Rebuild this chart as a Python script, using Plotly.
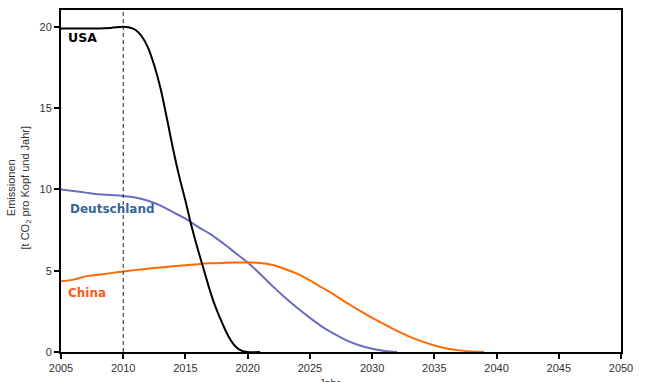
import plotly.graph_objects as go

years_usa = [2005, 2006, 2007, 2008, 2009, 2010, 2010.5, 2011, 2011.5, 2012, 2012.5, 2013, 2013.5,
             2014, 2014.5, 2015, 2015.5, 2016, 2016.5, 2017, 2017.5, 2018, 2018.5, 2019, 2019.5,
             2020, 2021]
usa = [19.9, 19.9, 19.9, 19.9, 19.93, 20.0, 19.95, 19.8, 19.4, 18.7, 17.6, 16.2, 14.4,
       12.5, 10.8, 9.3, 7.7, 6.3, 5.0, 3.7, 2.6, 1.7, 0.9, 0.35, 0.08,
       0.0, 0.0]

years_de = list(range(2005, 2033))
deutschland = [10.0, 9.9, 9.8, 9.7, 9.65, 9.6, 9.5, 9.3, 9.0, 8.6, 8.2, 7.7, 7.25, 6.7, 6.1,
               5.5, 4.8, 4.05, 3.35, 2.7, 2.1, 1.55, 1.1, 0.7, 0.4, 0.2, 0.06, 0.0]

years_cn = list(range(2005, 2040))
china = [4.35, 4.45, 4.65, 4.75, 4.85, 4.95, 5.05, 5.12, 5.2, 5.27, 5.33, 5.4, 5.45, 5.48, 5.5,
         5.5, 5.48, 5.35, 5.1, 4.8, 4.4, 3.95, 3.5, 3.0, 2.55, 2.1, 1.7, 1.3, 0.95, 0.65,
         0.4, 0.22, 0.1, 0.03, 0.0]

x_ticks = [2005, 2010, 2015, 2020, 2025, 2030, 2035, 2040, 2045, 2050]
y_ticks = [0, 5, 10, 15, 20]
marker_year = 2010

fig = go.Figure()
fig.add_trace(go.Scatter(x=years_de, y=deutschland, mode="lines",
                         line=dict(color="#6b6bc4", width=2, shape="spline"), name="Deutschland"))
fig.add_trace(go.Scatter(x=years_cn, y=china, mode="lines",
                         line=dict(color="#ff6a00", width=2, shape="spline"), name="China"))
fig.add_trace(go.Scatter(x=years_usa, y=usa, mode="lines",
                         line=dict(color="black", width=2, shape="spline"), name="USA"))

fig.add_shape(type="line", x0=marker_year, x1=marker_year, y0=0, y1=1, xref="x", yref="paper",
              line=dict(color="#222222", width=1, dash="4px,3px"))

fig.add_annotation(x=2005.4, y=19.35, text="<b>USA</b>", showarrow=False, xanchor="left",
                   font=dict(family="DejaVu Sans", size=12.5, color="black"))
fig.add_annotation(x=2005.55, y=8.79, text="<b>Deutschland</b>", showarrow=False, xanchor="left",
                   font=dict(family="DejaVu Sans", size=12, color="#336699"))
fig.add_annotation(x=2005.4, y=3.64, text="<b>China</b>", showarrow=False, xanchor="left",
                   font=dict(family="DejaVu Sans", size=12, color="#ff5a14"))

fig.add_annotation(x=-0.075, y=0.481, xref="paper", yref="paper", textangle=-90,
                   xanchor="center", yanchor="middle",
                   text="Emissionen<br>[t CO<sub>2</sub> pro Kopf und Jahr]", showarrow=False,
                   font=dict(family="Liberation Sans", size=11, color="#333333"))
fig.add_annotation(x=0.48, y=-0.068, xref="paper", yref="paper", yanchor="top",
                   text="Jahr", showarrow=False,
                   font=dict(family="Liberation Sans", size=11, color="#333333"))

axis_common = dict(showgrid=False, zeroline=False, showline=True, linecolor="black", linewidth=2,
                   mirror=True, ticks="outside", ticklen=5, tickwidth=1.5, tickcolor="black",
                   tickfont=dict(family="Liberation Sans", size=11, color="#333333"))
fig.update_xaxes(range=[2005, 2050], tickvals=x_ticks, **axis_common)
fig.update_yaxes(range=[0, 21.03], tickvals=y_ticks, **axis_common)

fig.update_layout(width=645, height=382, margin=dict(l=61, r=24, t=8, b=27),
                  paper_bgcolor="white", plot_bgcolor="white", showlegend=False)

fig.write_html("out.html", config={"displayModeBar": False},
               post_script="document.body.style.margin='0';")
